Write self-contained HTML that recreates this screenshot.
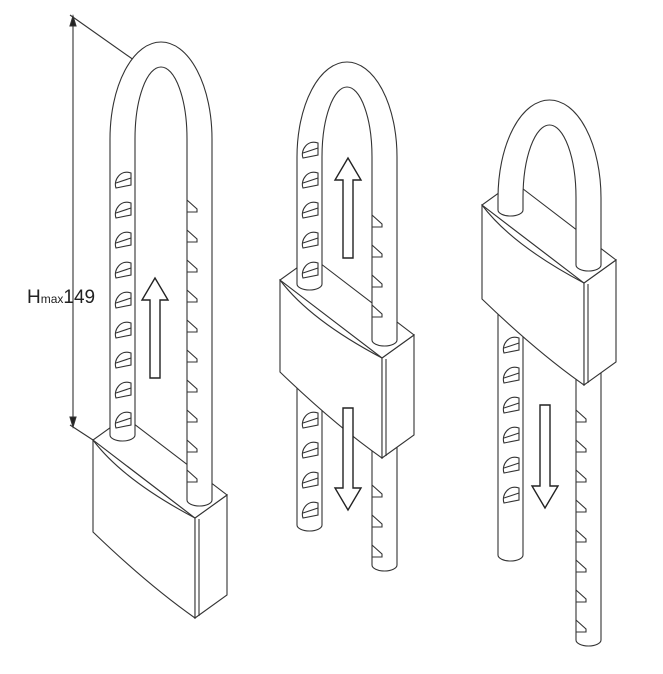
<!DOCTYPE html>
<html><head><meta charset="utf-8"><style>
html,body{margin:0;padding:0;background:#fff}
svg{display:block}
text{font-family:"Liberation Sans",sans-serif}
</style></head><body>
<svg id="s" width="663" height="674" viewBox="0 0 663 674" xmlns="http://www.w3.org/2000/svg">
<g fill="none" stroke="#333" stroke-width="1.1">
<line x1="73" y1="18" x2="73" y2="425"/>
<polygon points="73,16 70,26 76,26" fill="#222"/>
<polygon points="73,427 70,417 76,417" fill="#222"/>
<line x1="70" y1="15" x2="148" y2="70"/>
<line x1="70" y1="425" x2="93" y2="440"/>
</g>
<text x="27" y="303" font-size="19" fill="#222">H<tspan font-size="12">max</tspan>149</text>
<g id="g" fill="none" stroke="#333" stroke-width="1.1"></g>
</svg>
<script>
var g=document.getElementById('g'),h='';
function p(d,f){h+='<path d="'+d+'" fill="'+(f||'none')+'"/>';}
function screw(x,y){p('M'+x+','+(y+8)+' C'+(x-3)+','+(y)+' '+(x+5)+','+(y-11)+' '+(x+15)+','+(y-7)+' L'+(x+15)+','+(y+5)+' Z','#fff');
  p('M'+(x)+','+(y+3)+' L'+(x+15)+','+(y-2));}
function notch(R,y){p('M'+R+','+y+' L'+(R+10)+','+(y+9)+' L'+(R+10)+','+(y+12)+' L'+R+','+(y+12));}
function lock(L,R,top,bx,by,botL,botR,sy0,sy1,ny0,ny1,bodyH,upL,upR,lowL,lowR){
 var w=25,ro=(R+w-L)/2,ri=ro-w,ry=ro*1.9,riy=ry-w,y;
 // lower parts
 if(botL>upL+5){
  p('M'+L+','+upL+' L'+L+','+botL+' A12.5,6 0 0 0 '+(L+w)+','+botL+' L'+(L+w)+','+upL);
  p('M'+R+','+upR+' L'+R+','+botR+' A12.5,6 0 0 0 '+(R+w)+','+botR+' L'+(R+w)+','+upR);
  for(y=sy0;y<=sy1;y+=30) if(y>lowL) screw(L+6,y);
  for(y=ny0;y<=ny1;y+=30) if(y>lowR) notch(R,y);
 }
 var fw=102,dx=32,dy=-23,fd=78,H=bodyH;
 var a=[bx,by],b=[bx+fw,by+fd],c=[b[0]+dx,b[1]+dy],d=[bx+dx,by+dy];
 p('M'+a+' L'+b+' L'+b[0]+','+(b[1]+H)+' Q'+(bx+55)+','+(by+H+45)+' '+bx+','+(by+H-8)+' Z','#fff');
 p('M'+b+' L'+c+' L'+c[0]+','+(c[1]+H)+' L'+b[0]+','+(b[1]+H)+' Z','#fff');
 p('M'+a+' L'+b+' L'+c+' L'+d+' Z','#fff');
 p('M'+(b[0]+4)+','+(b[1]+1)+' L'+(b[0]+4)+','+(b[1]+H-2));
 p('M'+a+' Q'+(bx+30)+','+(by+40)+' '+b);
 // upper shackle
 p('M'+L+','+upL+' L'+L+','+(top+ry)+' A'+ro+','+ry+' 0 0 1 '+(R+w)+','+(top+ry)+' L'+(R+w)+','+upR+
   ' A12.5,6 0 0 1 '+R+','+upR+' L'+R+','+(top+ry)+' A'+ri+','+riy+' 0 0 0 '+(L+w)+','+(top+ry)+' L'+(L+w)+','+upL+
   ' A12.5,6 0 0 1 '+L+','+upL+' Z','#fff');
 for(y=sy0;y<=sy1;y+=30) if(y<upL-8) screw(L+6,y);
 for(y=ny0;y<=ny1;y+=30) if(y<upR-16) notch(R,y);
}
function arrow(x,y0,y1,up){
 var s=up?1:-1,hy=y0,hb=y0+s*22;
 h+='<path d="M'+x+','+hy+' L'+(x-13)+','+hb+' L'+(x-5)+','+hb+' L'+(x-5)+','+y1+' L'+(x+5)+','+y1+' L'+(x+5)+','+hb+' L'+(x+13)+','+hb+' Z" fill="#fff" stroke="#222" stroke-width="1.4"/>';
}
lock(110,187,42,93,440,435,500,180,420,200,470,100,435,500,999,999);
lock(297,372,62,280,280,525,565,150,510,215,545,100,284,340,395,465);
lock(498,576,100,482,205,555,640,345,520,260,625,102,210,265,320,395);
arrow(155,278,378,true);
arrow(348,158,258,true);
arrow(348,510,408,false);
arrow(545,508,405,false);
g.innerHTML=h;
</script>
</body></html>
